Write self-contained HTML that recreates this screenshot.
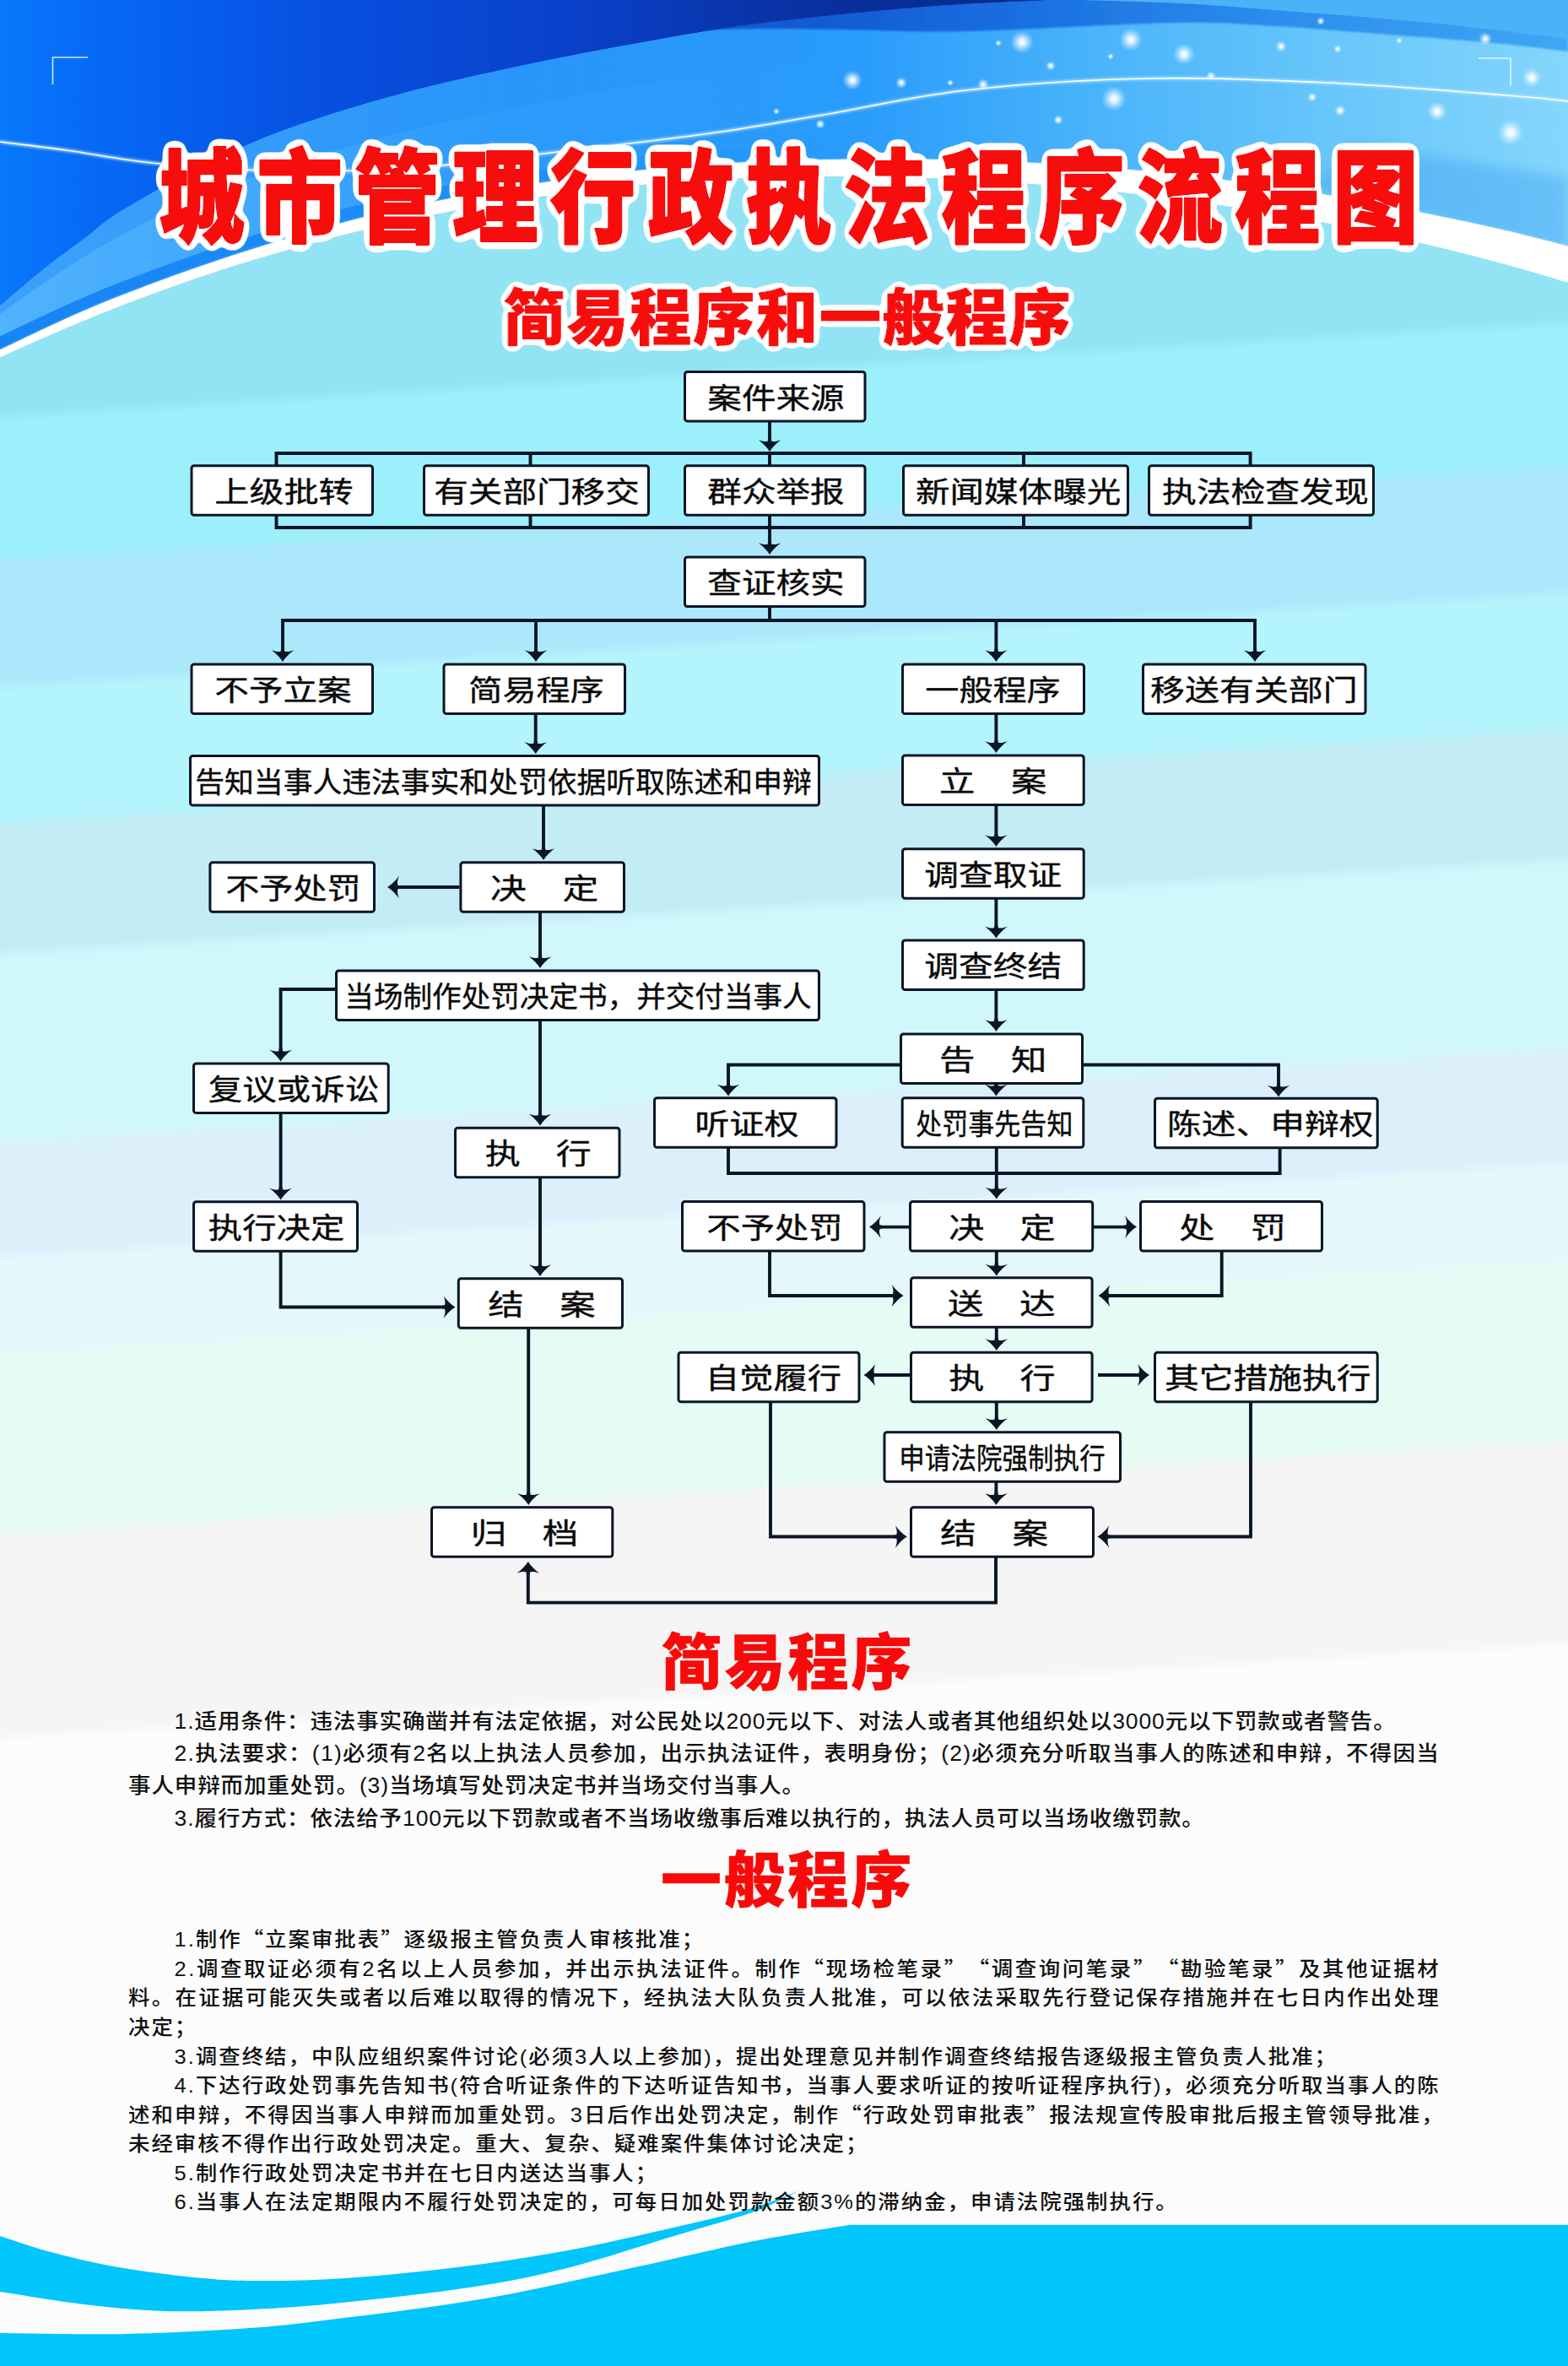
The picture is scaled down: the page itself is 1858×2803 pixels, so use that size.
<!DOCTYPE html>
<html lang="zh-CN"><head><meta charset="utf-8"><title>城市管理行政执法程序流程图</title>
<style>
html,body{margin:0;padding:0;background:#fff;}
body{width:1858px;height:2803px;overflow:hidden;}
svg{display:block;}
text{font-family:"Liberation Sans","Noto Sans CJK SC",sans-serif;}
.bx{fill:#fff;stroke:#0b1526;stroke-width:3;}
.ln{fill:none;stroke:#0b1526;stroke-width:3.9;stroke-linejoin:miter;}
.ah{fill:#0b1526;}
.bt{fill:#0a0a0a;font-weight:400;stroke:#0a0a0a;stroke-width:0.35;}
.pt{fill:#111;font-weight:500;text-spacing-trim:space-all;}
.hd{font-weight:900;fill:#f80a0a;}
.cj{font-family:"Noto Sans CJK SC","Liberation Sans",sans-serif;}
</style></head><body>
<svg width="1858" height="2803" viewBox="0 0 1858 2803">
<defs>
<linearGradient id="gBody" x1="0" y1="0" x2="172.8" y2="2894.2" gradientUnits="userSpaceOnUse">
<stop offset="0" stop-color="#92e4f4"/>
<stop offset="0.1676" stop-color="#92e4f4"/>
<stop offset="0.1724" stop-color="#9cf0fc"/>
<stop offset="0.2259" stop-color="#9cf0fc"/>
<stop offset="0.2307" stop-color="#ace8fc"/>
<stop offset="0.2776" stop-color="#ace8fc"/>
<stop offset="0.2824" stop-color="#b4f4fc"/>
<stop offset="0.3338" stop-color="#b4f4fc"/>
<stop offset="0.3386" stop-color="#c4ecf4"/>
<stop offset="0.3866" stop-color="#c4ecf4"/>
<stop offset="0.3914" stop-color="#d0f8fc"/>
<stop offset="0.4634" stop-color="#d0f8fc"/>
<stop offset="0.4683" stop-color="#dcf0fc"/>
<stop offset="0.5103" stop-color="#dcf0fc"/>
<stop offset="0.5152" stop-color="#e4f8fc"/>
<stop offset="0.5500" stop-color="#e4f8fc"/>
<stop offset="0.5548" stop-color="#e4fcf4"/>
<stop offset="0.6231" stop-color="#e4fcf4"/>
<stop offset="0.6279" stop-color="#f5f5f5"/>
<stop offset="0.7062" stop-color="#f5f5f5"/>
<stop offset="0.7110" stop-color="#fcfcfc"/>
<stop offset="1" stop-color="#fcfcfc"/>
</linearGradient>
<linearGradient id="gMid" x1="0" y1="0" x2="1858" y2="0" gradientUnits="userSpaceOnUse">
<stop offset="0" stop-color="#1684f4"/>
<stop offset="0.33" stop-color="#1e90fa"/>
<stop offset="0.55" stop-color="#2a9cfb"/>
<stop offset="0.70" stop-color="#4ab4fb"/>
<stop offset="0.85" stop-color="#68c6fa"/>
<stop offset="1" stop-color="#84d6fc"/>
</linearGradient>
<linearGradient id="gDeep" x1="0" y1="0" x2="1250" y2="0" gradientUnits="userSpaceOnUse">
<stop offset="0" stop-color="#0878fc"/>
<stop offset="0.10" stop-color="#0668f4"/>
<stop offset="0.30" stop-color="#0850e2"/>
<stop offset="0.55" stop-color="#0a40c8"/>
<stop offset="0.78" stop-color="#09309e"/>
<stop offset="1" stop-color="#08288a"/>
</linearGradient>
<linearGradient id="gBand" x1="950" y1="0" x2="1858" y2="0" gradientUnits="userSpaceOnUse">
<stop offset="0" stop-color="#0a44c4"/>
<stop offset="0.3" stop-color="#0e5cd8"/>
<stop offset="0.6" stop-color="#1a7ae8"/>
<stop offset="1" stop-color="#2a98f4"/>
</linearGradient>
<linearGradient id="gShade" x1="0" y1="0" x2="0" y2="1">
<stop offset="0" stop-color="#0a5ad8" stop-opacity="0"/>
<stop offset="1" stop-color="#0a5ad8" stop-opacity="0.55"/>
</linearGradient>
<radialGradient id="sp"><stop offset="0" stop-color="#fff" stop-opacity="1"/><stop offset="0.25" stop-color="#fff" stop-opacity="0.85"/><stop offset="1" stop-color="#bfe8ff" stop-opacity="0"/></radialGradient>
<filter id="blur3" x="-5%" y="-20%" width="110%" height="140%"><feGaussianBlur stdDeviation="3"/></filter>
<filter id="blur1" x="-5%" y="-20%" width="110%" height="140%"><feGaussianBlur stdDeviation="1.2"/></filter>
<filter id="blur8" x="-5%" y="-30%" width="110%" height="160%"><feGaussianBlur stdDeviation="7"/></filter>
</defs>
<rect x="0" y="0" width="1858" height="2803" fill="url(#gBody)"/>
<path d="M0.0,423.4 C10.0,419.0 40.0,405.3 59.9,396.7 C79.9,388.0 99.9,379.7 119.9,371.7 C139.8,363.8 159.8,356.1 179.8,348.7 C199.8,341.4 219.8,334.3 239.7,327.6 C259.7,320.8 279.7,314.4 299.7,308.3 C319.7,302.2 339.6,296.4 359.6,290.9 C379.6,285.4 399.6,280.2 419.5,275.3 C439.5,270.4 459.5,265.8 479.5,261.5 C499.5,257.2 519.4,253.2 539.4,249.4 C559.4,245.7 579.4,242.2 599.4,239.1 C619.3,235.9 639.3,233.0 659.3,230.3 C679.3,227.7 699.2,225.3 719.2,223.2 C739.2,221.0 759.2,219.2 779.2,217.5 C799.1,215.9 819.1,214.5 839.1,213.4 C859.1,212.2 879.1,211.3 899.0,210.6 C919.0,209.9 939.0,209.5 959.0,209.2 C978.9,209.0 998.9,208.9 1018.9,209.1 C1038.9,209.3 1058.9,209.7 1078.8,210.3 C1098.8,210.9 1118.8,211.7 1138.8,212.7 C1158.8,213.6 1178.7,214.8 1198.7,216.2 C1218.7,217.6 1238.7,219.2 1258.6,221.0 C1278.6,222.7 1298.6,224.7 1318.6,226.8 C1338.6,229.0 1358.5,231.3 1378.5,233.8 C1398.5,236.4 1418.5,239.1 1438.5,242.0 C1458.4,244.9 1478.4,248.0 1498.4,251.3 C1518.4,254.6 1538.3,258.1 1558.3,261.8 C1578.3,265.5 1598.3,269.5 1618.3,273.6 C1638.2,277.7 1658.2,282.1 1678.2,286.7 C1698.2,291.3 1718.2,296.1 1738.1,301.2 C1758.1,306.3 1778.1,311.6 1798.1,317.2 C1818.0,322.8 1848.0,331.9 1858.0,334.8 L1858,0 L0,0 Z" fill="url(#gMid)"/>
<linearGradient id="gL1" x1="0" y1="0" x2="1000" y2="0" gradientUnits="userSpaceOnUse"><stop offset="0" stop-color="#58b8ff" stop-opacity="0.9"/><stop offset="0.3" stop-color="#50b4ff" stop-opacity="0.7"/><stop offset="0.6" stop-color="#48b0ff" stop-opacity="0.35"/><stop offset="1" stop-color="#48b0ff" stop-opacity="0"/></linearGradient>
<path d="M0.0,398.4 C10.0,393.7 40.0,379.0 59.9,369.9 C79.9,360.7 99.9,351.9 119.9,343.6 C139.8,335.4 159.8,327.8 179.8,320.3 C199.8,312.8 219.8,305.7 239.7,298.8 C259.7,291.9 279.7,285.4 299.7,279.1 C319.7,272.7 339.6,266.5 359.6,260.7 C379.6,254.9 399.6,249.4 419.5,244.3 C439.5,239.2 459.5,234.6 479.5,230.2 C499.5,225.8 519.4,221.7 539.4,217.9 C559.4,214.1 579.4,210.5 599.4,207.3 C619.3,204.0 639.3,201.0 659.3,198.1 C679.3,195.3 699.2,192.6 719.2,190.2 C739.2,187.8 759.2,185.7 779.2,183.8 C799.1,181.9 819.1,180.2 839.1,178.8 C859.1,177.5 879.1,176.3 899.0,175.4 C919.0,174.5 949.0,173.8 959.0,173.5 L1000,0 L0,0 Z" fill="url(#gL1)"/>
<linearGradient id="gL2" x1="0" y1="0" x2="1000" y2="0" gradientUnits="userSpaceOnUse"><stop offset="0" stop-color="#1c86f6" stop-opacity="0.4"/><stop offset="0.5" stop-color="#1c86f6" stop-opacity="0.3"/><stop offset="1" stop-color="#1c86f6" stop-opacity="0"/></linearGradient>
<path d="M0.0,372.0 C10.0,365.0 40.0,343.3 60.0,330.0 C80.0,316.7 96.7,305.3 120.0,292.0 C143.3,278.7 170.0,263.7 200.0,250.0 C230.0,236.3 263.3,223.0 300.0,210.0 C336.7,197.0 376.7,184.0 420.0,172.0 C463.3,160.0 503.3,150.0 560.0,138.0 C616.7,126.0 686.7,112.0 760.0,100.0 C833.3,88.0 960.0,71.7 1000.0,66.0 L1000,0 L0,0 Z" fill="url(#gL2)"/>
<path d="M1600,170 L1858,210 L1858,300 L1685,255 L1560,225 Z" fill="#2a90ec" opacity="0.30" filter="url(#blur8)"/>
<path d="M0.0,362.0 C8.5,354.8 34.0,332.6 51.0,319.0 C68.0,305.4 86.7,292.1 102.0,280.6 C117.3,269.1 120.5,263.8 143.0,250.0 C165.5,236.2 204.8,214.0 237.0,198.0 C269.2,182.0 296.5,168.5 336.0,154.0 C375.5,139.5 426.7,123.8 474.0,111.0 C521.3,98.2 572.3,87.2 620.0,77.0 C667.7,66.8 713.8,58.2 760.0,50.0 C806.2,41.8 841.3,35.0 897.0,28.0 C952.7,21.0 1036.8,12.7 1094.0,8.0 C1151.2,3.3 1215.7,1.3 1240.0,0.0 L0,0 Z" fill="url(#gDeep)"/>
<path d="M0.0,362.0 C8.5,354.8 34.0,332.6 51.0,319.0 C68.0,305.4 86.7,292.1 102.0,280.6 C117.3,269.1 120.5,263.8 143.0,250.0 C165.5,236.2 204.8,214.0 237.0,198.0 C269.2,182.0 296.5,168.5 336.0,154.0 C375.5,139.5 426.7,123.8 474.0,111.0 C521.3,98.2 572.3,87.2 620.0,77.0 C667.7,66.8 713.8,58.2 760.0,50.0 C806.2,41.8 841.3,35.0 897.0,28.0 C952.7,21.0 1036.8,12.7 1094.0,8.0 C1151.2,3.3 1215.7,1.3 1240.0,0.0 L0,0 Z" fill="url(#gShade)" opacity="0"/>
<path d="M820.0,36.0 C833.3,35.7 870.0,34.2 900.0,34.0 C930.0,33.8 959.3,34.5 1000.0,35.0 C1040.7,35.5 1079.2,38.3 1144.0,37.0 C1208.8,35.7 1327.8,28.0 1389.0,27.0 C1450.2,26.0 1470.3,28.8 1511.0,31.0 C1551.7,33.2 1591.5,36.8 1633.0,40.0 C1674.5,43.2 1722.5,46.5 1760.0,50.0 C1797.5,53.5 1841.7,59.2 1858.0,61.0 L1858,-20 L820,-20 Z" fill="url(#gBand)" opacity="0.75" filter="url(#blur1)"/>
<path d="M1279.0,0.0 C1299.2,0.7 1361.3,2.0 1400.0,4.0 C1438.7,6.0 1462.0,8.2 1511.0,12.0 C1560.0,15.8 1636.2,21.3 1694.0,27.0 C1751.8,32.7 1830.7,42.8 1858.0,46.0 L1858,0 Z" fill="#4cb2f8"/>
<path d="M0.0,362.0 C8.5,354.8 34.0,332.6 51.0,319.0 C68.0,305.4 86.7,292.1 102.0,280.6 C117.3,269.1 120.5,263.8 143.0,250.0 C165.5,236.2 204.8,214.0 237.0,198.0 C269.2,182.0 296.5,168.5 336.0,154.0 C375.5,139.5 426.7,123.8 474.0,111.0 C521.3,98.2 572.3,87.2 620.0,77.0 C667.7,66.8 713.8,58.2 760.0,50.0 C806.2,41.8 841.3,35.0 897.0,28.0 C952.7,21.0 1036.8,12.7 1094.0,8.0 C1151.2,3.3 1215.7,1.3 1240.0,0.0 L0,0 Z" fill="url(#gDeep)"/>
<path d="M0.0,423.4 C10.0,419.0 40.0,405.3 59.9,396.7 C79.9,388.0 99.9,379.7 119.9,371.7 C139.8,363.8 159.8,356.1 179.8,348.7 C199.8,341.4 219.8,334.3 239.7,327.6 C259.7,320.8 279.7,314.4 299.7,308.3 C319.7,302.2 339.6,296.4 359.6,290.9 C379.6,285.4 399.6,280.2 419.5,275.3 C439.5,270.4 459.5,265.8 479.5,261.5 C499.5,257.2 519.4,253.2 539.4,249.4 C559.4,245.7 579.4,242.2 599.4,239.1 C619.3,235.9 639.3,233.0 659.3,230.3 C679.3,227.7 699.2,225.3 719.2,223.2 C739.2,221.0 759.2,219.2 779.2,217.5 C799.1,215.9 819.1,214.5 839.1,213.4 C859.1,212.2 879.1,211.3 899.0,210.6 C919.0,209.9 939.0,209.5 959.0,209.2 C978.9,209.0 998.9,208.9 1018.9,209.1 C1038.9,209.3 1058.9,209.7 1078.8,210.3 C1098.8,210.9 1118.8,211.7 1138.8,212.7 C1158.8,213.6 1178.7,214.8 1198.7,216.2 C1218.7,217.6 1238.7,219.2 1258.6,221.0 C1278.6,222.7 1298.6,224.7 1318.6,226.8 C1338.6,229.0 1358.5,231.3 1378.5,233.8 C1398.5,236.4 1418.5,239.1 1438.5,242.0 C1458.4,244.9 1478.4,248.0 1498.4,251.3 C1518.4,254.6 1538.3,258.1 1558.3,261.8 C1578.3,265.5 1598.3,269.5 1618.3,273.6 C1638.2,277.7 1658.2,282.1 1678.2,286.7 C1698.2,291.3 1718.2,296.1 1738.1,301.2 C1758.1,306.3 1778.1,311.6 1798.1,317.2 C1818.0,322.8 1848.0,331.9 1858.0,334.8 L1858.0,291.8 C1848.0,289.3 1818.0,281.4 1798.1,276.6 C1778.1,271.8 1758.1,267.3 1738.1,263.0 C1718.2,258.7 1698.2,254.8 1678.2,250.8 C1658.2,246.9 1638.2,242.8 1618.3,239.2 C1598.3,235.5 1578.3,232.0 1558.3,228.8 C1538.3,225.5 1518.4,222.5 1498.4,219.6 C1478.4,216.8 1458.4,214.2 1438.5,211.7 C1418.5,209.3 1398.5,207.0 1378.5,204.9 C1358.5,202.9 1338.6,201.0 1318.6,199.4 C1298.6,197.7 1278.6,196.3 1258.6,195.0 C1238.7,193.8 1218.7,192.7 1198.7,191.8 C1178.7,190.8 1158.8,190.0 1138.8,189.5 C1118.8,188.9 1098.8,188.6 1078.8,188.4 C1058.9,188.3 1038.9,188.4 1018.9,188.5 C998.9,188.7 978.9,189.0 959.0,189.5 C939.0,190.0 919.0,190.5 899.0,191.4 C879.1,192.3 859.1,193.5 839.1,194.8 C819.1,196.2 799.1,197.9 779.2,199.8 C759.2,201.7 739.2,203.8 719.2,206.2 C699.2,208.6 679.3,211.3 659.3,214.1 C639.3,217.0 619.3,220.0 599.4,223.3 C579.4,226.5 559.4,230.1 539.4,233.9 C519.4,237.7 499.5,241.8 479.5,246.2 C459.5,250.6 439.5,255.2 419.5,260.3 C399.6,265.4 379.6,270.9 359.6,276.7 C339.6,282.5 319.7,288.7 299.7,295.1 C279.7,301.4 259.7,307.9 239.7,314.8 C219.8,321.7 199.8,328.8 179.8,336.3 C159.8,343.8 139.8,351.4 119.9,359.6 C99.9,367.9 79.9,376.7 59.9,385.9 C40.0,395.0 10.0,409.7 0.0,414.4 Z" fill="#ffffff" opacity="0.8" filter="url(#blur1)"/>
<path d="M0.0,423.4 C10.0,419.0 40.0,405.3 59.9,396.7 C79.9,388.0 99.9,379.7 119.9,371.7 C139.8,363.8 159.8,356.1 179.8,348.7 C199.8,341.4 219.8,334.3 239.7,327.6 C259.7,320.8 279.7,314.4 299.7,308.3 C319.7,302.2 339.6,296.4 359.6,290.9 C379.6,285.4 399.6,280.2 419.5,275.3 C439.5,270.4 459.5,265.8 479.5,261.5 C499.5,257.2 519.4,253.2 539.4,249.4 C559.4,245.7 579.4,242.2 599.4,239.1 C619.3,235.9 639.3,233.0 659.3,230.3 C679.3,227.7 699.2,225.3 719.2,223.2 C739.2,221.0 759.2,219.2 779.2,217.5 C799.1,215.9 819.1,214.5 839.1,213.4 C859.1,212.2 879.1,211.3 899.0,210.6 C919.0,209.9 939.0,209.5 959.0,209.2 C978.9,209.0 998.9,208.9 1018.9,209.1 C1038.9,209.3 1058.9,209.7 1078.8,210.3 C1098.8,210.9 1118.8,211.7 1138.8,212.7 C1158.8,213.6 1178.7,214.8 1198.7,216.2 C1218.7,217.6 1238.7,219.2 1258.6,221.0 C1278.6,222.7 1298.6,224.7 1318.6,226.8 C1338.6,229.0 1358.5,231.3 1378.5,233.8 C1398.5,236.4 1418.5,239.1 1438.5,242.0 C1458.4,244.9 1478.4,248.0 1498.4,251.3 C1518.4,254.6 1538.3,258.1 1558.3,261.8 C1578.3,265.5 1598.3,269.5 1618.3,273.6 C1638.2,277.7 1658.2,282.1 1678.2,286.7 C1698.2,291.3 1718.2,296.1 1738.1,301.2 C1758.1,306.3 1778.1,311.6 1798.1,317.2 C1818.0,322.8 1848.0,331.9 1858.0,334.8 L1858.0,291.8 C1848.0,289.3 1818.0,281.4 1798.1,276.6 C1778.1,271.8 1758.1,267.3 1738.1,263.0 C1718.2,258.7 1698.2,254.8 1678.2,250.8 C1658.2,246.9 1638.2,242.8 1618.3,239.2 C1598.3,235.5 1578.3,232.0 1558.3,228.8 C1538.3,225.5 1518.4,222.5 1498.4,219.6 C1478.4,216.8 1458.4,214.2 1438.5,211.7 C1418.5,209.3 1398.5,207.0 1378.5,204.9 C1358.5,202.9 1338.6,201.0 1318.6,199.4 C1298.6,197.7 1278.6,196.3 1258.6,195.0 C1238.7,193.8 1218.7,192.7 1198.7,191.8 C1178.7,190.8 1158.8,190.0 1138.8,189.5 C1118.8,188.9 1098.8,188.6 1078.8,188.4 C1058.9,188.3 1038.9,188.4 1018.9,188.5 C998.9,188.7 978.9,189.0 959.0,189.5 C939.0,190.0 919.0,190.5 899.0,191.4 C879.1,192.3 859.1,193.5 839.1,194.8 C819.1,196.2 799.1,197.9 779.2,199.8 C759.2,201.7 739.2,203.8 719.2,206.2 C699.2,208.6 679.3,211.3 659.3,214.1 C639.3,217.0 619.3,220.0 599.4,223.3 C579.4,226.5 559.4,230.1 539.4,233.9 C519.4,237.7 499.5,241.8 479.5,246.2 C459.5,250.6 439.5,255.2 419.5,260.3 C399.6,265.4 379.6,270.9 359.6,276.7 C339.6,282.5 319.7,288.7 299.7,295.1 C279.7,301.4 259.7,307.9 239.7,314.8 C219.8,321.7 199.8,328.8 179.8,336.3 C159.8,343.8 139.8,351.4 119.9,359.6 C99.9,367.9 79.9,376.7 59.9,385.9 C40.0,395.0 10.0,409.7 0.0,414.4 Z" fill="#ffffff"/>
<path d="M0.0,423.4 C10.0,419.0 40.0,405.3 59.9,396.7 C79.9,388.0 99.9,379.7 119.9,371.7 C139.8,363.8 159.8,356.1 179.8,348.7 C199.8,341.4 219.8,334.3 239.7,327.6 C259.7,320.8 279.7,314.4 299.7,308.3 C319.7,302.2 339.6,296.4 359.6,290.9 C379.6,285.4 399.6,280.2 419.5,275.3 C439.5,270.4 459.5,265.8 479.5,261.5 C499.5,257.2 519.4,253.2 539.4,249.4 C559.4,245.7 579.4,242.2 599.4,239.1 C619.3,235.9 639.3,233.0 659.3,230.3 C679.3,227.7 699.2,225.3 719.2,223.2 C739.2,221.0 759.2,219.2 779.2,217.5 C799.1,215.9 819.1,214.5 839.1,213.4 C859.1,212.2 879.1,211.3 899.0,210.6 C919.0,209.9 939.0,209.5 959.0,209.2 C978.9,209.0 998.9,208.9 1018.9,209.1 C1038.9,209.3 1058.9,209.7 1078.8,210.3 C1098.8,210.9 1118.8,211.7 1138.8,212.7 C1158.8,213.6 1178.7,214.8 1198.7,216.2 C1218.7,217.6 1238.7,219.2 1258.6,221.0 C1278.6,222.7 1298.6,224.7 1318.6,226.8 C1338.6,229.0 1358.5,231.3 1378.5,233.8 C1398.5,236.4 1418.5,239.1 1438.5,242.0 C1458.4,244.9 1478.4,248.0 1498.4,251.3 C1518.4,254.6 1538.3,258.1 1558.3,261.8 C1578.3,265.5 1598.3,269.5 1618.3,273.6 C1638.2,277.7 1658.2,282.1 1678.2,286.7 C1698.2,291.3 1718.2,296.1 1738.1,301.2 C1758.1,306.3 1778.1,311.6 1798.1,317.2 C1818.0,322.8 1848.0,331.9 1858.0,334.8 L1858,700 L0,700 Z" fill="url(#gBody)"/>
<path d="M0.0,168.0 C13.2,169.7 47.3,173.7 79.0,178.0 C110.7,182.3 144.8,189.8 190.0,194.0 C235.2,198.2 298.3,202.3 350.0,203.0 C401.7,203.7 451.0,201.5 500.0,198.0 C549.0,194.5 587.2,188.7 644.0,182.0 C700.8,175.3 785.7,165.7 841.0,158.0 C896.3,150.3 925.5,144.5 976.0,136.0 C1026.5,127.5 1080.3,114.2 1144.0,107.0 C1207.7,99.8 1286.7,94.5 1358.0,93.0 C1429.3,91.5 1500.7,94.7 1572.0,98.0 C1643.3,101.3 1738.3,109.3 1786.0,113.0 C1833.7,116.7 1846.0,118.8 1858.0,120.0" fill="none" stroke="#bfe6ff" stroke-width="5" opacity="0.55" filter="url(#blur1)"/>
<path d="M0.0,168.0 C13.2,169.7 47.3,173.7 79.0,178.0 C110.7,182.3 144.8,189.8 190.0,194.0 C235.2,198.2 298.3,202.3 350.0,203.0 C401.7,203.7 451.0,201.5 500.0,198.0 C549.0,194.5 587.2,188.7 644.0,182.0 C700.8,175.3 785.7,165.7 841.0,158.0 C896.3,150.3 925.5,144.5 976.0,136.0 C1026.5,127.5 1080.3,114.2 1144.0,107.0 C1207.7,99.8 1286.7,94.5 1358.0,93.0 C1429.3,91.5 1500.7,94.7 1572.0,98.0 C1643.3,101.3 1738.3,109.3 1786.0,113.0 C1833.7,116.7 1846.0,118.8 1858.0,120.0" fill="none" stroke="#ffffff" stroke-width="1.6" opacity="0.95"/>
<circle cx="1211" cy="50" r="14" fill="url(#sp)"/>
<circle cx="1340" cy="47" r="14" fill="url(#sp)"/>
<circle cx="1403" cy="64" r="13" fill="url(#sp)"/>
<circle cx="1565" cy="25" r="5" fill="url(#sp)"/>
<circle cx="1518" cy="55" r="7" fill="url(#sp)"/>
<circle cx="1585" cy="58" r="5" fill="url(#sp)"/>
<circle cx="1760" cy="46" r="8" fill="url(#sp)"/>
<circle cx="1815" cy="92" r="12" fill="url(#sp)"/>
<circle cx="1010" cy="95" r="12" fill="url(#sp)"/>
<circle cx="1068" cy="98" r="7" fill="url(#sp)"/>
<circle cx="1165" cy="100" r="7" fill="url(#sp)"/>
<circle cx="1245" cy="78" r="6" fill="url(#sp)"/>
<circle cx="1320" cy="117" r="15" fill="url(#sp)"/>
<circle cx="1435" cy="90" r="6" fill="url(#sp)"/>
<circle cx="1555" cy="115" r="6" fill="url(#sp)"/>
<circle cx="1588" cy="131" r="7" fill="url(#sp)"/>
<circle cx="1703" cy="132" r="12" fill="url(#sp)"/>
<circle cx="1790" cy="157" r="16" fill="url(#sp)"/>
<circle cx="972" cy="147" r="6" fill="url(#sp)"/>
<circle cx="1254" cy="142" r="6" fill="url(#sp)"/>
<circle cx="1183" cy="51" r="4" fill="url(#sp)"/>
<circle cx="1316" cy="67" r="4" fill="url(#sp)"/>
<circle cx="1126" cy="98" r="4" fill="url(#sp)"/>
<circle cx="1658" cy="48" r="4" fill="url(#sp)"/>
<circle cx="920" cy="132" r="4" fill="url(#sp)"/>
<path d="M62.5,100 V68 H104" fill="none" stroke="#e8f4ff" stroke-width="1.6" opacity="0.9"/>
<path d="M1752,69 H1790 V102" fill="none" stroke="#e8f8ff" stroke-width="1.6" opacity="0.9"/>
<path d="M0.0,2649.0 C10.0,2652.2 36.7,2661.8 60.0,2668.0 C83.3,2674.2 111.7,2681.0 140.0,2686.0 C168.3,2691.0 203.3,2695.3 230.0,2698.0 C256.7,2700.7 271.7,2701.7 300.0,2702.0 C328.3,2702.3 361.0,2702.1 400.0,2699.6 C439.0,2697.1 489.3,2692.4 534.0,2687.0 C578.7,2681.6 623.3,2675.2 668.0,2667.0 C712.7,2658.8 764.8,2646.5 802.0,2638.0 C839.2,2629.5 866.8,2623.1 891.0,2616.0 C915.2,2608.9 937.7,2599.0 947.0,2595.6 L947.0,2595.6 C937.7,2599.8 915.2,2612.3 891.0,2621.0 C866.8,2629.7 839.2,2636.8 802.0,2648.0 C764.8,2659.2 709.0,2677.7 668.0,2688.0 C627.0,2698.3 600.7,2703.2 556.0,2710.0 C511.3,2716.8 442.7,2724.3 400.0,2728.6 C357.3,2732.9 334.2,2734.4 300.0,2736.0 C265.8,2737.6 228.3,2739.0 195.0,2738.0 C161.7,2737.0 132.5,2733.8 100.0,2730.0 C67.5,2726.2 16.7,2717.5 0.0,2715.0 Z" fill="#00c6fc"/>
<path d="M0.0,2764.0 C25.0,2764.2 100.7,2766.0 150.0,2765.0 C199.3,2764.0 254.3,2761.0 296.0,2758.0 C337.7,2755.0 353.0,2752.9 400.0,2747.0 C447.0,2741.1 518.5,2732.8 578.0,2722.5 C637.5,2712.2 704.8,2696.2 757.0,2685.0 C809.2,2673.8 849.3,2663.7 891.0,2655.5 C932.7,2647.3 987.7,2639.1 1007.0,2635.8 L1858,2635.8 L1858,2803 L0,2803 Z" fill="#00c6fc"/>
<polyline class="ln" points="912.0,500.0 912.0,529.0"/>
<polyline class="ln" points="327.5,551.0 327.5,537.0 1481.6,537.0 1481.6,551.0"/>
<polyline class="ln" points="628.5,537.0 628.5,551.0"/>
<polyline class="ln" points="912.0,537.0 912.0,551.0"/>
<polyline class="ln" points="1213.0,537.0 1213.0,551.0"/>
<polyline class="ln" points="327.5,611.0 327.5,625.0 1481.6,625.0 1481.6,611.0"/>
<polyline class="ln" points="628.5,611.0 628.5,625.0"/>
<polyline class="ln" points="1213.0,611.0 1213.0,625.0"/>
<polyline class="ln" points="912.0,611.0 912.0,625.0"/>
<polyline class="ln" points="912.0,624.0 912.0,651.0"/>
<polyline class="ln" points="912.0,719.0 912.0,735.0"/>
<polyline class="ln" points="335.0,735.0 1487.0,735.0"/>
<polyline class="ln" points="335.0,733.0 335.0,778.0"/>
<polyline class="ln" points="635.0,735.0 635.0,778.0"/>
<polyline class="ln" points="1180.4,735.0 1180.4,778.0"/>
<polyline class="ln" points="1487.0,733.0 1487.0,778.0"/>
<polyline class="ln" points="634.7,846.0 634.7,887.0"/>
<polyline class="ln" points="644.0,955.0 644.0,1013.0"/>
<polyline class="ln" points="544.4,1051.0 465.0,1051.0"/>
<polyline class="ln" points="640.0,1081.0 640.0,1141.0"/>
<polyline class="ln" points="397.0,1172.0 332.6,1172.0 332.6,1251.0"/>
<polyline class="ln" points="640.0,1209.0 640.0,1327.5"/>
<polyline class="ln" points="332.6,1319.0 332.6,1415.5"/>
<polyline class="ln" points="332.6,1483.0 332.6,1548.5 533.0,1548.5"/>
<polyline class="ln" points="640.0,1395.0 640.0,1506.0"/>
<polyline class="ln" points="626.2,1574.0 626.2,1777.0"/>
<polyline class="ln" points="1180.4,846.0 1180.4,886.0"/>
<polyline class="ln" points="1180.4,954.0 1180.4,997.0"/>
<polyline class="ln" points="1180.4,1065.0 1180.4,1105.5"/>
<polyline class="ln" points="1180.4,1173.0 1180.4,1216.0"/>
<polyline class="ln" points="1066.0,1261.5 863.0,1261.5 863.0,1292.0"/>
<polyline class="ln" points="1284.0,1261.5 1515.0,1261.5 1515.0,1293.0"/>
<polyline class="ln" points="1180.4,1284.0 1180.4,1292.5"/>
<polyline class="ln" points="863.0,1360.0 863.0,1390.0 1516.6,1390.0 1516.6,1360.0"/>
<polyline class="ln" points="1180.8,1360.0 1180.8,1414.5"/>
<polyline class="ln" points="1077.0,1453.6 1036.0,1453.6"/>
<polyline class="ln" points="1296.0,1453.6 1341.0,1453.6"/>
<polyline class="ln" points="1180.8,1483.0 1180.8,1505.5"/>
<polyline class="ln" points="912.0,1483.0 912.0,1535.0 1064.0,1535.0"/>
<polyline class="ln" points="1447.7,1483.0 1447.7,1535.0 1308.0,1535.0"/>
<polyline class="ln" points="1180.8,1573.0 1180.8,1594.0"/>
<polyline class="ln" points="1078.0,1629.0 1029.5,1629.0"/>
<polyline class="ln" points="1301.0,1629.0 1356.0,1629.0"/>
<polyline class="ln" points="1180.8,1661.0 1180.8,1688.0"/>
<polyline class="ln" points="1180.4,1756.0 1180.4,1777.0"/>
<polyline class="ln" points="913.0,1661.0 913.0,1820.5 1068.0,1820.5"/>
<polyline class="ln" points="1482.0,1661.0 1482.0,1820.5 1307.0,1820.5"/>
<polyline class="ln" points="1180.0,1845.0 1180.0,1898.6 625.8,1898.6 625.8,1857.0"/>
<path class="ah" transform="translate(912.0,535.0) rotate(270)" d="M0,0 C5,-3 10,-8 13.8,-13.3 C12,-8 11.5,-5 12.6,-2.1 L15,-2.1 L15,2.1 L12.6,2.1 C11.5,5 12,8 13.8,13.3 C10,8 5,3 0,0 Z"/>
<path class="ah" transform="translate(912.0,657.0) rotate(270)" d="M0,0 C5,-3 10,-8 13.8,-13.3 C12,-8 11.5,-5 12.6,-2.1 L15,-2.1 L15,2.1 L12.6,2.1 C11.5,5 12,8 13.8,13.3 C10,8 5,3 0,0 Z"/>
<path class="ah" transform="translate(335.0,784.0) rotate(270)" d="M0,0 C5,-3 10,-8 13.8,-13.3 C12,-8 11.5,-5 12.6,-2.1 L15,-2.1 L15,2.1 L12.6,2.1 C11.5,5 12,8 13.8,13.3 C10,8 5,3 0,0 Z"/>
<path class="ah" transform="translate(635.0,784.0) rotate(270)" d="M0,0 C5,-3 10,-8 13.8,-13.3 C12,-8 11.5,-5 12.6,-2.1 L15,-2.1 L15,2.1 L12.6,2.1 C11.5,5 12,8 13.8,13.3 C10,8 5,3 0,0 Z"/>
<path class="ah" transform="translate(1180.4,784.0) rotate(270)" d="M0,0 C5,-3 10,-8 13.8,-13.3 C12,-8 11.5,-5 12.6,-2.1 L15,-2.1 L15,2.1 L12.6,2.1 C11.5,5 12,8 13.8,13.3 C10,8 5,3 0,0 Z"/>
<path class="ah" transform="translate(1487.0,784.0) rotate(270)" d="M0,0 C5,-3 10,-8 13.8,-13.3 C12,-8 11.5,-5 12.6,-2.1 L15,-2.1 L15,2.1 L12.6,2.1 C11.5,5 12,8 13.8,13.3 C10,8 5,3 0,0 Z"/>
<path class="ah" transform="translate(634.7,893.0) rotate(270)" d="M0,0 C5,-3 10,-8 13.8,-13.3 C12,-8 11.5,-5 12.6,-2.1 L15,-2.1 L15,2.1 L12.6,2.1 C11.5,5 12,8 13.8,13.3 C10,8 5,3 0,0 Z"/>
<path class="ah" transform="translate(644.0,1019.0) rotate(270)" d="M0,0 C5,-3 10,-8 13.8,-13.3 C12,-8 11.5,-5 12.6,-2.1 L15,-2.1 L15,2.1 L12.6,2.1 C11.5,5 12,8 13.8,13.3 C10,8 5,3 0,0 Z"/>
<path class="ah" transform="translate(459.0,1051.0) rotate(0)" d="M0,0 C5,-3 10,-8 13.8,-13.3 C12,-8 11.5,-5 12.6,-2.1 L15,-2.1 L15,2.1 L12.6,2.1 C11.5,5 12,8 13.8,13.3 C10,8 5,3 0,0 Z"/>
<path class="ah" transform="translate(640.0,1147.0) rotate(270)" d="M0,0 C5,-3 10,-8 13.8,-13.3 C12,-8 11.5,-5 12.6,-2.1 L15,-2.1 L15,2.1 L12.6,2.1 C11.5,5 12,8 13.8,13.3 C10,8 5,3 0,0 Z"/>
<path class="ah" transform="translate(332.6,1257.5) rotate(270)" d="M0,0 C5,-3 10,-8 13.8,-13.3 C12,-8 11.5,-5 12.6,-2.1 L15,-2.1 L15,2.1 L12.6,2.1 C11.5,5 12,8 13.8,13.3 C10,8 5,3 0,0 Z"/>
<path class="ah" transform="translate(640.0,1333.5) rotate(270)" d="M0,0 C5,-3 10,-8 13.8,-13.3 C12,-8 11.5,-5 12.6,-2.1 L15,-2.1 L15,2.1 L12.6,2.1 C11.5,5 12,8 13.8,13.3 C10,8 5,3 0,0 Z"/>
<path class="ah" transform="translate(332.6,1421.5) rotate(270)" d="M0,0 C5,-3 10,-8 13.8,-13.3 C12,-8 11.5,-5 12.6,-2.1 L15,-2.1 L15,2.1 L12.6,2.1 C11.5,5 12,8 13.8,13.3 C10,8 5,3 0,0 Z"/>
<path class="ah" transform="translate(539.5,1548.5) rotate(180)" d="M0,0 C5,-3 10,-8 13.8,-13.3 C12,-8 11.5,-5 12.6,-2.1 L15,-2.1 L15,2.1 L12.6,2.1 C11.5,5 12,8 13.8,13.3 C10,8 5,3 0,0 Z"/>
<path class="ah" transform="translate(640.0,1512.0) rotate(270)" d="M0,0 C5,-3 10,-8 13.8,-13.3 C12,-8 11.5,-5 12.6,-2.1 L15,-2.1 L15,2.1 L12.6,2.1 C11.5,5 12,8 13.8,13.3 C10,8 5,3 0,0 Z"/>
<path class="ah" transform="translate(626.2,1783.0) rotate(270)" d="M0,0 C5,-3 10,-8 13.8,-13.3 C12,-8 11.5,-5 12.6,-2.1 L15,-2.1 L15,2.1 L12.6,2.1 C11.5,5 12,8 13.8,13.3 C10,8 5,3 0,0 Z"/>
<path class="ah" transform="translate(1180.4,892.0) rotate(270)" d="M0,0 C5,-3 10,-8 13.8,-13.3 C12,-8 11.5,-5 12.6,-2.1 L15,-2.1 L15,2.1 L12.6,2.1 C11.5,5 12,8 13.8,13.3 C10,8 5,3 0,0 Z"/>
<path class="ah" transform="translate(1180.4,1003.0) rotate(270)" d="M0,0 C5,-3 10,-8 13.8,-13.3 C12,-8 11.5,-5 12.6,-2.1 L15,-2.1 L15,2.1 L12.6,2.1 C11.5,5 12,8 13.8,13.3 C10,8 5,3 0,0 Z"/>
<path class="ah" transform="translate(1180.4,1111.5) rotate(270)" d="M0,0 C5,-3 10,-8 13.8,-13.3 C12,-8 11.5,-5 12.6,-2.1 L15,-2.1 L15,2.1 L12.6,2.1 C11.5,5 12,8 13.8,13.3 C10,8 5,3 0,0 Z"/>
<path class="ah" transform="translate(1180.4,1222.0) rotate(270)" d="M0,0 C5,-3 10,-8 13.8,-13.3 C12,-8 11.5,-5 12.6,-2.1 L15,-2.1 L15,2.1 L12.6,2.1 C11.5,5 12,8 13.8,13.3 C10,8 5,3 0,0 Z"/>
<path class="ah" transform="translate(863.0,1298.5) rotate(270)" d="M0,0 C5,-3 10,-8 13.8,-13.3 C12,-8 11.5,-5 12.6,-2.1 L15,-2.1 L15,2.1 L12.6,2.1 C11.5,5 12,8 13.8,13.3 C10,8 5,3 0,0 Z"/>
<path class="ah" transform="translate(1515.0,1299.5) rotate(270)" d="M0,0 C5,-3 10,-8 13.8,-13.3 C12,-8 11.5,-5 12.6,-2.1 L15,-2.1 L15,2.1 L12.6,2.1 C11.5,5 12,8 13.8,13.3 C10,8 5,3 0,0 Z"/>
<path class="ah" transform="translate(1180.4,1298.5) rotate(270)" d="M0,0 C5,-3 10,-8 13.8,-13.3 C12,-8 11.5,-5 12.6,-2.1 L15,-2.1 L15,2.1 L12.6,2.1 C11.5,5 12,8 13.8,13.3 C10,8 5,3 0,0 Z"/>
<path class="ah" transform="translate(1180.8,1420.5) rotate(270)" d="M0,0 C5,-3 10,-8 13.8,-13.3 C12,-8 11.5,-5 12.6,-2.1 L15,-2.1 L15,2.1 L12.6,2.1 C11.5,5 12,8 13.8,13.3 C10,8 5,3 0,0 Z"/>
<path class="ah" transform="translate(1030.0,1453.6) rotate(0)" d="M0,0 C5,-3 10,-8 13.8,-13.3 C12,-8 11.5,-5 12.6,-2.1 L15,-2.1 L15,2.1 L12.6,2.1 C11.5,5 12,8 13.8,13.3 C10,8 5,3 0,0 Z"/>
<path class="ah" transform="translate(1347.0,1453.6) rotate(180)" d="M0,0 C5,-3 10,-8 13.8,-13.3 C12,-8 11.5,-5 12.6,-2.1 L15,-2.1 L15,2.1 L12.6,2.1 C11.5,5 12,8 13.8,13.3 C10,8 5,3 0,0 Z"/>
<path class="ah" transform="translate(1180.8,1511.5) rotate(270)" d="M0,0 C5,-3 10,-8 13.8,-13.3 C12,-8 11.5,-5 12.6,-2.1 L15,-2.1 L15,2.1 L12.6,2.1 C11.5,5 12,8 13.8,13.3 C10,8 5,3 0,0 Z"/>
<path class="ah" transform="translate(1070.5,1535.0) rotate(180)" d="M0,0 C5,-3 10,-8 13.8,-13.3 C12,-8 11.5,-5 12.6,-2.1 L15,-2.1 L15,2.1 L12.6,2.1 C11.5,5 12,8 13.8,13.3 C10,8 5,3 0,0 Z"/>
<path class="ah" transform="translate(1301.5,1535.0) rotate(0)" d="M0,0 C5,-3 10,-8 13.8,-13.3 C12,-8 11.5,-5 12.6,-2.1 L15,-2.1 L15,2.1 L12.6,2.1 C11.5,5 12,8 13.8,13.3 C10,8 5,3 0,0 Z"/>
<path class="ah" transform="translate(1180.8,1600.0) rotate(270)" d="M0,0 C5,-3 10,-8 13.8,-13.3 C12,-8 11.5,-5 12.6,-2.1 L15,-2.1 L15,2.1 L12.6,2.1 C11.5,5 12,8 13.8,13.3 C10,8 5,3 0,0 Z"/>
<path class="ah" transform="translate(1023.5,1629.0) rotate(0)" d="M0,0 C5,-3 10,-8 13.8,-13.3 C12,-8 11.5,-5 12.6,-2.1 L15,-2.1 L15,2.1 L12.6,2.1 C11.5,5 12,8 13.8,13.3 C10,8 5,3 0,0 Z"/>
<path class="ah" transform="translate(1362.0,1629.0) rotate(180)" d="M0,0 C5,-3 10,-8 13.8,-13.3 C12,-8 11.5,-5 12.6,-2.1 L15,-2.1 L15,2.1 L12.6,2.1 C11.5,5 12,8 13.8,13.3 C10,8 5,3 0,0 Z"/>
<path class="ah" transform="translate(1180.8,1694.0) rotate(270)" d="M0,0 C5,-3 10,-8 13.8,-13.3 C12,-8 11.5,-5 12.6,-2.1 L15,-2.1 L15,2.1 L12.6,2.1 C11.5,5 12,8 13.8,13.3 C10,8 5,3 0,0 Z"/>
<path class="ah" transform="translate(1180.4,1783.0) rotate(270)" d="M0,0 C5,-3 10,-8 13.8,-13.3 C12,-8 11.5,-5 12.6,-2.1 L15,-2.1 L15,2.1 L12.6,2.1 C11.5,5 12,8 13.8,13.3 C10,8 5,3 0,0 Z"/>
<path class="ah" transform="translate(1074.8,1820.5) rotate(180)" d="M0,0 C5,-3 10,-8 13.8,-13.3 C12,-8 11.5,-5 12.6,-2.1 L15,-2.1 L15,2.1 L12.6,2.1 C11.5,5 12,8 13.8,13.3 C10,8 5,3 0,0 Z"/>
<path class="ah" transform="translate(1300.5,1820.5) rotate(0)" d="M0,0 C5,-3 10,-8 13.8,-13.3 C12,-8 11.5,-5 12.6,-2.1 L15,-2.1 L15,2.1 L12.6,2.1 C11.5,5 12,8 13.8,13.3 C10,8 5,3 0,0 Z"/>
<path class="ah" transform="translate(625.8,1850.0) rotate(90)" d="M0,0 C5,-3 10,-8 13.8,-13.3 C12,-8 11.5,-5 12.6,-2.1 L15,-2.1 L15,2.1 L12.6,2.1 C11.5,5 12,8 13.8,13.3 C10,8 5,3 0,0 Z"/>
<rect class="bx" x="811.5" y="440.4" width="213.5" height="58.5" rx="3" ry="3"/>
<rect class="bx" x="227.0" y="551.8" width="214.5" height="58.5" rx="3" ry="3"/>
<rect class="bx" x="502.5" y="551.8" width="266.0" height="58.5" rx="3" ry="3"/>
<rect class="bx" x="811.5" y="551.8" width="213.5" height="58.5" rx="3" ry="3"/>
<rect class="bx" x="1070.5" y="551.8" width="266.0" height="58.5" rx="3" ry="3"/>
<rect class="bx" x="1361.5" y="551.8" width="266.0" height="58.5" rx="3" ry="3"/>
<rect class="bx" x="811.5" y="660.0" width="213.5" height="58.5" rx="3" ry="3"/>
<rect class="bx" x="227.0" y="787.0" width="214.5" height="58.5" rx="3" ry="3"/>
<rect class="bx" x="526.0" y="787.0" width="214.5" height="58.5" rx="3" ry="3"/>
<rect class="bx" x="1069.5" y="787.0" width="215.0" height="58.5" rx="3" ry="3"/>
<rect class="bx" x="1354.5" y="787.0" width="263.5" height="58.5" rx="3" ry="3"/>
<rect class="bx" x="225.5" y="895.5" width="745.0" height="58.5" rx="3" ry="3"/>
<rect class="bx" x="248.9" y="1021.8" width="194.6" height="58.5" rx="3" ry="3"/>
<rect class="bx" x="545.9" y="1021.8" width="193.6" height="58.5" rx="3" ry="3"/>
<rect class="bx" x="398.5" y="1150.0" width="572.0" height="58.5" rx="3" ry="3"/>
<rect class="bx" x="229.5" y="1260.0" width="230.7" height="58.5" rx="3" ry="3"/>
<rect class="bx" x="539.5" y="1336.2" width="194.5" height="58.5" rx="3" ry="3"/>
<rect class="bx" x="229.5" y="1423.8" width="194.0" height="58.5" rx="3" ry="3"/>
<rect class="bx" x="543.3" y="1514.8" width="194.2" height="58.5" rx="3" ry="3"/>
<rect class="bx" x="511.5" y="1785.8" width="214.3" height="58.5" rx="3" ry="3"/>
<rect class="bx" x="1069.5" y="895.0" width="214.7" height="58.5" rx="3" ry="3"/>
<rect class="bx" x="1069.5" y="1005.8" width="214.7" height="58.5" rx="3" ry="3"/>
<rect class="bx" x="1069.5" y="1114.0" width="214.7" height="58.5" rx="3" ry="3"/>
<rect class="bx" x="1067.5" y="1225.0" width="215.0" height="58.5" rx="3" ry="3"/>
<rect class="bx" x="775.5" y="1300.8" width="215.5" height="58.5" rx="3" ry="3"/>
<rect class="bx" x="1069.2" y="1300.8" width="214.6" height="58.5" rx="3" ry="3"/>
<rect class="bx" x="1368.5" y="1301.2" width="263.7" height="58.5" rx="3" ry="3"/>
<rect class="bx" x="808.5" y="1423.5" width="215.5" height="58.5" rx="3" ry="3"/>
<rect class="bx" x="1078.5" y="1423.5" width="216.2" height="58.5" rx="3" ry="3"/>
<rect class="bx" x="1351.5" y="1423.5" width="215.0" height="58.5" rx="3" ry="3"/>
<rect class="bx" x="1079.5" y="1513.8" width="214.6" height="58.5" rx="3" ry="3"/>
<rect class="bx" x="804.0" y="1602.2" width="214.0" height="58.5" rx="3" ry="3"/>
<rect class="bx" x="1079.5" y="1602.2" width="214.6" height="58.5" rx="3" ry="3"/>
<rect class="bx" x="1368.5" y="1602.2" width="263.7" height="58.5" rx="3" ry="3"/>
<rect class="bx" x="1048.0" y="1696.8" width="279.5" height="58.5" rx="3" ry="3"/>
<rect class="bx" x="1079.5" y="1785.8" width="216.0" height="58.5" rx="3" ry="3"/>
<text class="bt" x="838.3" y="483.6" font-size="34" textLength="162.4" lengthAdjust="spacingAndGlyphs">案件来源</text>
<text class="bt" x="254.3" y="594.9" font-size="34" textLength="164.4" lengthAdjust="spacingAndGlyphs">上级批转</text>
<text class="bt" x="514.3" y="594.9" font-size="34" textLength="243.4" lengthAdjust="spacingAndGlyphs">有关部门移交</text>
<text class="bt" x="838.3" y="594.9" font-size="34" textLength="162.4" lengthAdjust="spacingAndGlyphs">群众举报</text>
<text class="bt" x="1085.0" y="594.9" font-size="34" textLength="243.2" lengthAdjust="spacingAndGlyphs">新闻媒体曝光</text>
<text class="bt" x="1376.9" y="594.9" font-size="34" textLength="244.8" lengthAdjust="spacingAndGlyphs">执法检查发现</text>
<text class="bt" x="838.3" y="703.1" font-size="34" textLength="162.4" lengthAdjust="spacingAndGlyphs">查证核实</text>
<text class="bt" x="254.3" y="830.1" font-size="34" textLength="162.4" lengthAdjust="spacingAndGlyphs">不予立案</text>
<text class="bt" x="555.3" y="830.1" font-size="34" textLength="160.4" lengthAdjust="spacingAndGlyphs">简易程序</text>
<text class="bt" x="1096.3" y="830.1" font-size="34" textLength="160.4" lengthAdjust="spacingAndGlyphs">一般程序</text>
<text class="bt" x="1363.1" y="830.1" font-size="34" textLength="245.6" lengthAdjust="spacingAndGlyphs">移送有关部门</text>
<text class="bt" x="231.3" y="938.7" font-size="34" textLength="730.4" lengthAdjust="spacingAndGlyphs">告知当事人违法事实和处罚依据听取陈述和申辩</text>
<text class="bt" x="267.3" y="1064.9" font-size="34" textLength="160.4" lengthAdjust="spacingAndGlyphs">不予处罚</text>
<text class="bt" x="580.9" y="1064.9" font-size="34" textLength="128.4" lengthAdjust="spacingAndGlyphs">决　定</text>
<text class="bt" x="408.3" y="1193.1" font-size="34" textLength="553.4" lengthAdjust="spacingAndGlyphs">当场制作处罚决定书，并交付当事人</text>
<text class="bt" x="246.8" y="1303.2" font-size="34" textLength="202.3" lengthAdjust="spacingAndGlyphs">复议或诉讼</text>
<text class="bt" x="574.8" y="1379.4" font-size="34" textLength="125.9" lengthAdjust="spacingAndGlyphs">执　行</text>
<text class="bt" x="246.8" y="1466.9" font-size="34" textLength="161.5" lengthAdjust="spacingAndGlyphs">执行决定</text>
<text class="bt" x="578.3" y="1557.9" font-size="34" textLength="127.4" lengthAdjust="spacingAndGlyphs">结　案</text>
<text class="bt" x="557.8" y="1828.9" font-size="34" textLength="127.4" lengthAdjust="spacingAndGlyphs">归　档</text>
<text class="bt" x="1113.1" y="938.1" font-size="34" textLength="127.4" lengthAdjust="spacingAndGlyphs">立　案</text>
<text class="bt" x="1095.3" y="1048.9" font-size="34" textLength="163.0" lengthAdjust="spacingAndGlyphs">调查取证</text>
<text class="bt" x="1095.3" y="1157.2" font-size="34" textLength="163.0" lengthAdjust="spacingAndGlyphs">调查终结</text>
<text class="bt" x="1113.1" y="1268.1" font-size="34" textLength="127.4" lengthAdjust="spacingAndGlyphs">告　知</text>
<text class="bt" x="823.2" y="1343.9" font-size="34" textLength="123.3" lengthAdjust="spacingAndGlyphs">听证权</text>
<text class="bt" x="1085.3" y="1343.9" font-size="34" textLength="186.1" lengthAdjust="spacingAndGlyphs">处罚事先告知</text>
<text class="bt" x="1382.9" y="1344.4" font-size="34" textLength="244.5" lengthAdjust="spacingAndGlyphs">陈述、申辩权</text>
<text class="bt" x="837.3" y="1466.7" font-size="34" textLength="161.4" lengthAdjust="spacingAndGlyphs">不予处罚</text>
<text class="bt" x="1124.3" y="1466.7" font-size="34" textLength="126.4" lengthAdjust="spacingAndGlyphs">决　定</text>
<text class="bt" x="1397.3" y="1466.7" font-size="34" textLength="126.7" lengthAdjust="spacingAndGlyphs">处　罚</text>
<text class="bt" x="1122.8" y="1556.9" font-size="34" textLength="127.9" lengthAdjust="spacingAndGlyphs">送　达</text>
<text class="bt" x="835.8" y="1645.4" font-size="34" textLength="161.3" lengthAdjust="spacingAndGlyphs">自觉履行</text>
<text class="bt" x="1124.3" y="1645.4" font-size="34" textLength="126.4" lengthAdjust="spacingAndGlyphs">执　行</text>
<text class="bt" x="1380.0" y="1645.4" font-size="34" textLength="244.5" lengthAdjust="spacingAndGlyphs">其它措施执行</text>
<text class="bt" x="1065.3" y="1739.9" font-size="34" textLength="244.4" lengthAdjust="spacingAndGlyphs">申请法院强制执行</text>
<text class="bt" x="1113.9" y="1828.9" font-size="34" textLength="128.4" lengthAdjust="spacingAndGlyphs">结　案</text>
<filter id="ol1" x="-3%" y="-25%" width="106%" height="150%"><feGaussianBlur in="SourceAlpha" stdDeviation="4.8" result="b"/><feComponentTransfer in="b" result="t"><feFuncA type="linear" slope="30" intercept="-1.5"/></feComponentTransfer><feFlood flood-color="#ffffff"/><feComposite in2="t" operator="in" result="w"/><feMerge><feMergeNode in="w"/><feMergeNode in="SourceGraphic"/></feMerge></filter>
<filter id="ol2" x="-3%" y="-25%" width="106%" height="150%"><feGaussianBlur in="SourceAlpha" stdDeviation="4.6" result="b"/><feComponentTransfer in="b" result="t"><feFuncA type="linear" slope="30" intercept="-1.5"/></feComponentTransfer><feFlood flood-color="#ffffff"/><feComposite in2="t" operator="in" result="w"/><feMerge><feMergeNode in="w"/><feMergeNode in="SourceGraphic"/></feMerge></filter>
<g transform="translate(188.5,277.5) scale(1,1.190)"><text class="hd" x="0" y="0" font-size="101.0" letter-spacing="14.90" stroke="#f80a0a" stroke-width="2.2" stroke-linejoin="round" filter="url(#ol1)">城市管理行政执法程序流程图</text></g>
<g transform="translate(596.5,402.1) scale(1,0.983)"><text class="hd" x="0" y="0" font-size="73.0" letter-spacing="1.90" stroke="#f80a0a" stroke-width="1.2" stroke-linejoin="round" filter="url(#ol2)">简易程序和一般程序</text></g>
<g transform="translate(783.5,1994.8) scale(1,1.000)"><text class="hd" x="0" y="0" font-size="72.0" letter-spacing="3.00" stroke="#f80a0a" stroke-width="0.6" stroke-linejoin="round">简易程序</text></g>
<g transform="translate(783.0,2253.0) scale(1,1.000)"><text class="hd" x="0" y="0" font-size="72.0" letter-spacing="3.10" stroke="#f80a0a" stroke-width="0.6" stroke-linejoin="round">一般程序</text></g>
<text class="pt" transform="translate(206.6,2047.5) scale(1.060,1)" font-size="25.0" letter-spacing="0.85">1.适用条件：违法事实确凿并有法定依据，对公民处以200元以下、对法人或者其他组织处以3000元以下罚款或者警告。</text>
<text class="pt" transform="translate(206.6,2085.9) scale(1.060,1)" font-size="25.0" textLength="1413.3" lengthAdjust="spacing">2.执法要求：(1)必须有2名以上执法人员参加，出示执法证件，表明身份；(2)必须充分听取当事人的陈述和申辩，不得因当</text>
<text class="pt" transform="translate(152.0,2124.3) scale(1.060,1)" font-size="25.0" letter-spacing="0.85">事人申辩而加重处罚。(3)当场填写处罚决定书并当场交付当事人。</text>
<text class="pt" transform="translate(206.6,2162.7) scale(1.060,1)" font-size="25.0" letter-spacing="0.85">3.履行方式：依法给予100元以下罚款或者不当场收缴事后难以执行的，执法人员可以当场收缴罚款。</text>
<text class="pt" transform="translate(206.6,2306.3) scale(1.060,1)" font-size="24.0" letter-spacing="1.88">1.制作<tspan class="cj">“</tspan>立案审批表<tspan class="cj">”</tspan>逐级报主管负责人审核批准；</text>
<text class="pt" transform="translate(206.6,2340.9) scale(1.060,1)" font-size="24.0" textLength="1413.3" lengthAdjust="spacing">2.调查取证必须有2名以上人员参加，并出示执法证件。制作<tspan class="cj">“</tspan>现场检笔录<tspan class="cj">”</tspan><tspan class="cj">“</tspan>调查询问笔录<tspan class="cj">”</tspan><tspan class="cj">“</tspan>勘验笔录<tspan class="cj">”</tspan>及其他证据材</text>
<text class="pt" transform="translate(152.0,2375.4) scale(1.060,1)" font-size="24.0" textLength="1464.8" lengthAdjust="spacing">料。在证据可能灭失或者以后难以取得的情况下，经执法大队负责人批准，可以依法采取先行登记保存措施并在七日内作出处理</text>
<text class="pt" transform="translate(152.0,2410.0) scale(1.060,1)" font-size="24.0" letter-spacing="1.88">决定；</text>
<text class="pt" transform="translate(206.6,2444.5) scale(1.060,1)" font-size="24.0" letter-spacing="1.88">3.调查终结，中队应组织案件讨论(必须3人以上参加)，提出处理意见并制作调查终结报告逐级报主管负责人批准；</text>
<text class="pt" transform="translate(206.6,2479.1) scale(1.060,1)" font-size="24.0" textLength="1413.3" lengthAdjust="spacing">4.下达行政处罚事先告知书(符合听证条件的下达听证告知书，当事人要求听证的按听证程序执行)，必须充分听取当事人的陈</text>
<text class="pt" transform="translate(152.0,2513.6) scale(1.060,1)" font-size="24.0" textLength="1469.5" lengthAdjust="spacing">述和申辩，不得因当事人申辩而加重处罚。3日后作出处罚决定，制作<tspan class="cj">“</tspan>行政处罚审批表<tspan class="cj">”</tspan>报法规宣传股审批后报主管领导批准，</text>
<text class="pt" transform="translate(152.0,2548.2) scale(1.060,1)" font-size="24.0" letter-spacing="1.88">未经审核不得作出行政处罚决定。重大、复杂、疑难案件集体讨论决定；</text>
<text class="pt" transform="translate(206.6,2582.7) scale(1.060,1)" font-size="24.0" letter-spacing="1.88">5.制作行政处罚决定书并在七日内送达当事人；</text>
<text class="pt" transform="translate(206.6,2617.3) scale(1.060,1)" font-size="24.0" letter-spacing="1.88">6.当事人在法定期限内不履行处罚决定的，可每日加处罚款金额3%的滞纳金，申请法院强制执行。</text>
</svg>
</body></html>
